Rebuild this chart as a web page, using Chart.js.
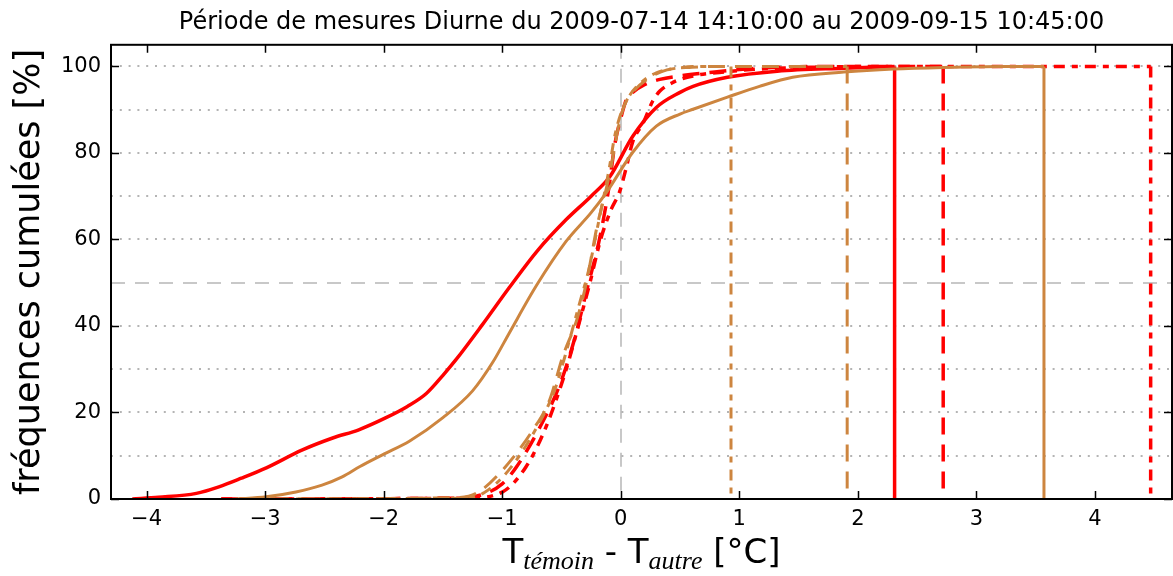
<!DOCTYPE html>
<html>
<head>
<meta charset="utf-8">
<script src="https://cdn.jsdelivr.net/npm/chart.js@4.4.0/dist/chart.umd.min.js"></script>
<style>
  html, body { margin: 0; padding: 0; background: #fff; }
  canvas { display: block; }
</style>
</head>
<body>
<canvas id="cdf" width="1173" height="576"></canvas>
<script>
const titre = "Période de mesures Diurne du 2009-07-14 14:10:00 au 2009-09-15 10:45:00";
const titreY = "fréquences cumulées [%]";
const xTicks = [-4, -3, -2, -1, 0, 1, 2, 3, 4];
const yTicks = [0, 20, 40, 60, 80, 100];

// courbes cumulées, rouge (le dernier point est la fin de la série, puis retour à 0)
const rougePleinX = [-4.12, -3.9, -3.58, -3.39, -3.2, -2.99, -2.69, -2.43, -2.21, -1.98, -1.8, -1.64, -1.5, -1.39, -1.17, -0.94, -0.7, -0.46, -0.25, -0.09, 0.1, 0.3, 0.5, 0.61, 0.9, 1.32, 1.88, 2.31];
const rougePleinY = [0, 0.4, 1.3, 2.8, 4.8, 7.2, 11.3, 14.1, 16, 18.8, 21.4, 24.4, 28.6, 32.2, 40.2, 48.9, 57.5, 64.6, 70, 74.6, 83.8, 90.5, 94, 95.4, 97.5, 98.9, 99.6, 100];

const rougeTiretX = [-3.37, -1.4, -1.17, -1.0, -0.88, -0.68, -0.52, -0.4, -0.28, -0.18, -0.1, -0.05, 0.0, 0.05, 0.1, 0.2, 0.33, 0.5, 0.75, 1.0, 1.32, 1.8, 2.72];
const rougeTiretY = [0, 0.2, 1, 3.5, 7.4, 16.7, 26, 36, 49, 60, 72, 82, 88, 92.5, 94, 95.8, 97, 97.8, 98.6, 99.3, 99.8, 100, 100];

const rougeMixteX = [-3.37, -1.3, -1.0, -0.8, -0.63, -0.46, -0.35, -0.26, -0.17, -0.08, -0.01, 0.05, 0.1, 0.19, 0.27, 0.33, 0.44, 0.61, 0.9, 1.17, 1.6, 2.2, 4.47];
const rougeMixteY = [0, 0.2, 1.6, 7.4, 16.7, 30, 40.8, 50, 60, 67, 71, 77, 82.5, 87, 92, 94.3, 96.3, 97.8, 98.8, 99.4, 99.8, 100, 100];

// courbes cumulées, orange
const orangePleinX = [-3.25, -2.99, -2.74, -2.52, -2.35, -2.2, -2.01, -1.78, -1.5, -1.25, -1.08, -0.94, -0.71, -0.46, -0.25, -0.12, 0.1, 0.3, 0.5, 0.61, 0.9, 1.17, 1.45, 1.88, 2.3, 2.8, 3.2, 3.57];
const orangePleinY = [0, 0.5, 1.6, 3.2, 5.1, 7.5, 10.2, 13.4, 18.8, 25, 31.6, 38.4, 49.4, 59.6, 66.2, 70.9, 80.1, 86.2, 89, 90.1, 92.9, 95.4, 97.5, 98.7, 99.4, 99.8, 100, 100];

const orangeTiretX = [-3.18, -1.4, -1.22, -1.02, -0.74, -0.6, -0.49, -0.37, -0.29, -0.2, -0.12, -0.07, -0.02, 0.03, 0.1, 0.22, 0.39, 0.6, 0.9, 1.91];
const orangeTiretY = [0, 0.3, 1.3, 6, 16, 22.9, 32.9, 41.5, 50, 63, 72, 78.5, 86, 91, 94, 97, 99.2, 99.8, 100, 100];

const orangeMixteX = [-3.0, -1.3, -1.15, -0.95, -0.72, -0.56, -0.45, -0.35, -0.27, -0.18, -0.1, -0.05, 0.0, 0.08, 0.18, 0.3, 0.5, 0.65, 0.93];
const orangeMixteY = [0, 0.2, 1.5, 6.5, 16, 25, 35, 45, 53, 65, 76, 84, 89, 93.5, 96.5, 98.5, 99.7, 100, 100];

const ROUGE = "#ff0000";
const ORANGE = "#cd853f";
const TIRET = [17, 10];
const MIXTE = [11, 7, 6, 7];

function style(couleur, dash, largeur) {
  return {
    borderColor: couleur,
    borderWidth: largeur,
    borderDash: dash,
    showLine: true,
    pointRadius: 0,
    fill: false
  };
}

// une série = la courbe lissée + la descente verticale à la dernière valeur
function serie(xs, ys, couleur, dash, largeur) {
  const n = xs.length - 1;
  const courbe = Object.assign(style(couleur, dash, largeur), {
    data: xs.map((x, i) => ({ x: x, y: ys[i] })),
    cubicInterpolationMode: "monotone"
  });
  const chute = Object.assign(style(couleur, dash, largeur), {
    data: [{ x: xs[n], y: ys[n] }, { x: xs[n], y: 0 }],
    tension: 0
  });
  return [courbe, chute];
}

const datasets = [].concat(
  serie(orangePleinX, orangePleinY, ORANGE, [], 3),
  serie(orangeTiretX, orangeTiretY, ORANGE, TIRET, 3),
  serie(orangeMixteX, orangeMixteY, ORANGE, MIXTE, 3),
  serie(rougePleinX, rougePleinY, ROUGE, [], 3.5),
  serie(rougeTiretX, rougeTiretY, ROUGE, TIRET, 3.5),
  serie(rougeMixteX, rougeMixteY, ROUGE, MIXTE, 3.5)
);

const moins = v => String(v).replace("-", "\u2212");

// cadre noir + graduations vers l'intérieur sur les quatre côtés
const cadre = {
  id: "cadre",
  afterDatasetsDraw(chart) {
    const { ctx, chartArea: a, scales } = chart;
    ctx.save();
    ctx.strokeStyle = "#000";
    ctx.lineWidth = 1.5;
    ctx.beginPath();
    xTicks.forEach(v => {
      const px = Math.round(scales.x.getPixelForValue(v)) + 0.5;
      ctx.moveTo(px, a.bottom); ctx.lineTo(px, a.bottom - 8);
      ctx.moveTo(px, a.top); ctx.lineTo(px, a.top + 8);
    });
    yTicks.forEach(v => {
      const py = Math.round(scales.y.getPixelForValue(v)) + 0.5;
      ctx.moveTo(a.left, py); ctx.lineTo(a.left + 8, py);
      ctx.moveTo(a.right, py); ctx.lineTo(a.right - 8, py);
    });
    ctx.stroke();
    ctx.lineWidth = 2;
    ctx.strokeRect(a.left, a.top, a.right - a.left, a.bottom - a.top);
    ctx.restore();
  }
};

// titre de l'axe x avec indices en italique
const titreX = {
  id: "titreX",
  afterDraw(chart) {
    const { ctx, chartArea: a } = chart;
    const grand = "34px 'DejaVu Sans'";
    const petit = "italic 26px 'Liberation Serif'";
    const morceaux = [
      { t: "T", f: grand, dy: 0 },
      { t: "témoin", f: petit, dy: 6 },
      { t: " - T", f: grand, dy: 0 },
      { t: "autre", f: petit, dy: 6 },
      { t: " [°C]", f: grand, dy: 0 }
    ];
    ctx.save();
    ctx.fillStyle = "#000";
    ctx.textBaseline = "alphabetic";
    let total = 0;
    morceaux.forEach(m => { ctx.font = m.f; m.w = ctx.measureText(m.t).width; total += m.w; });
    let x = (a.left + a.right) / 2 - total / 2;
    const base = 563;
    morceaux.forEach(m => {
      ctx.font = m.f;
      ctx.fillText(m.t, x, base + m.dy);
      x += m.w;
    });
    ctx.restore();
  }
};

new Chart(document.getElementById("cdf"), {
  type: "scatter",
  data: { datasets: datasets },
  plugins: [cadre, titreX],
  options: {
    responsive: false,
    animation: false,
    devicePixelRatio: 1,
    layout: { padding: { top: 0, right: 1, left: 0, bottom: 0 } },
    plugins: {
      legend: { display: false },
      tooltip: { enabled: false },
      title: {
        display: true,
        text: titre,
        fullSize: false,
        color: "#000",
        font: { family: "'DejaVu Sans'", size: 24, weight: "normal", lineHeight: 1.2 },
        padding: { top: 8, bottom: 8 }
      }
    },
    scales: {
      x: {
        type: "linear",
        min: -4.3,
        max: 4.65,
        afterBuildTicks: s => { s.ticks = xTicks.map(v => ({ value: v })); },
        afterFit: s => { s.height = 77; },
        ticks: {
          color: "#000",
          font: { family: "'DejaVu Sans'", size: 21 },
          padding: 8,
          maxRotation: 0,
          callback: v => moins(v)
        },
        grid: {
          drawTicks: false,
          lineWidth: 2,
          color: c => (c.tick && c.tick.value === 0 ? "#c8c8c8" : "rgba(0,0,0,0)")
        },
        border: { display: false, dash: [14, 10] }
      },
      y: {
        min: 0,
        max: 105,
        afterBuildTicks: s => {
          const t = [];
          for (let v = 0; v <= 100; v += 10) t.push({ value: v });
          s.ticks = t;
        },
        afterFit: s => { s.width = 111; },
        ticks: {
          color: "#000",
          font: { family: "'DejaVu Sans'", size: 21 },
          padding: 10,
          callback: v => (yTicks.includes(v) ? moins(v) : "")
        },
        grid: {
          drawTicks: false,
          lineWidth: 2,
          color: c => {
            if (!c.tick || c.tick.value === 0) return "rgba(0,0,0,0)";
            return c.tick.value === 50 ? "#c8c8c8" : "#b4b4b4";
          }
        },
        border: {
          display: false,
          dash: c => (c.tick && c.tick.value === 50 ? [14, 10] : [2, 6.8])
        },
        title: {
          display: true,
          text: titreY,
          color: "#000",
          font: { family: "'DejaVu Sans'", size: 35, lineHeight: 1.2 },
          padding: { top: 9, bottom: 0 }
        }
      }
    }
  }
});
</script>
</body>
</html>
